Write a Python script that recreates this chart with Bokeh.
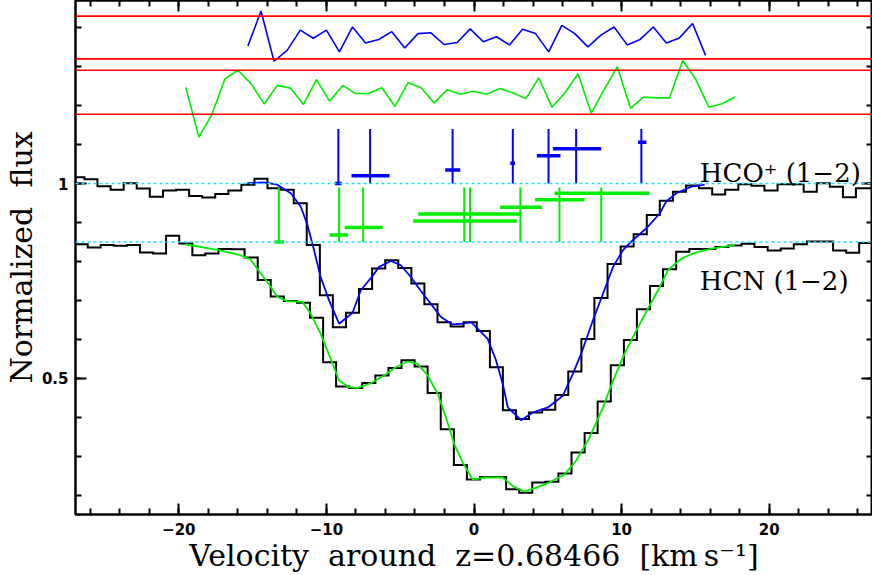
from bokeh.plotting import figure
from bokeh.models import Range1d, LinearAxis, SingleIntervalTicker, Span, Label
from bokeh.embed import file_html
from bokeh.resources import INLINE

# ---------------- data ----------------
BIN_W = 0.886  # km/s channel width

hco_v = [-26.84, -25.95, -25.07, -24.18, -23.29, -22.41, -21.52, -20.63, -19.75, -18.86,
         -17.98, -17.09, -16.20, -15.32, -14.43, -13.55, -12.66, -11.77, -10.89, -10.00,
         -9.12, -8.23, -7.35, -6.46, -5.57, -4.69, -3.80, -2.92, -2.03, -1.14,
         -0.26, 0.63, 1.52, 2.40, 3.29, 4.17, 5.06, 5.95, 6.83, 7.72,
         8.60, 9.49, 10.38, 11.26, 12.15, 13.03, 13.92, 14.81, 15.69, 16.58,
         17.46, 18.35, 19.24, 20.12, 21.01, 21.89, 22.78, 23.67, 24.55, 25.44,
         26.32, 27.21]
hco_f = [1.016, 1.011, 0.993, 0.984, 1.001, 0.987, 0.966, 0.982, 0.984, 0.968,
         0.964, 0.973, 0.982, 0.997, 1.012, 0.988, 0.984, 0.949, 0.842, 0.713,
         0.631, 0.668, 0.729, 0.782, 0.803, 0.783, 0.743, 0.690, 0.644, 0.633,
         0.644, 0.621, 0.528, 0.418, 0.395, 0.412, 0.419, 0.457, 0.517, 0.601,
         0.706, 0.793, 0.838, 0.870, 0.919, 0.956, 0.979, 0.995, 0.988, 0.972,
         0.984, 0.998, 0.994, 0.982, 0.998, 0.998, 0.979, 1.001, 0.992, 0.965,
         0.988, 0.988]

hcn_v = [-26.62, -25.73, -24.85, -23.96, -23.07, -22.19, -21.30, -20.42, -19.53, -18.64,
         -17.76, -16.87, -15.99, -15.10, -14.21, -13.33, -12.44, -11.55, -10.67, -9.78,
         -8.90, -8.01, -7.13, -6.24, -5.35, -4.47, -3.58, -2.70, -1.81, -0.92,
         -0.04, 0.85, 1.74, 2.62, 3.51, 4.39, 5.28, 6.16, 7.05, 7.94,
         8.82, 9.71, 10.60, 11.48, 12.37, 13.25, 14.14, 15.03, 15.91, 16.80,
         17.68, 18.57, 19.45, 20.34, 21.23, 22.11, 23.00, 23.88, 24.77, 25.66,
         26.54, 27.43]
hcn_f = [0.844, 0.836, 0.842, 0.840, 0.842, 0.823, 0.820, 0.866, 0.846, 0.816,
         0.820, 0.832, 0.831, 0.810, 0.752, 0.710, 0.698, 0.694, 0.655, 0.541,
         0.479, 0.475, 0.488, 0.507, 0.526, 0.546, 0.530, 0.462, 0.369, 0.277,
         0.240, 0.246, 0.246, 0.215, 0.206, 0.232, 0.234, 0.255, 0.309, 0.359,
         0.440, 0.533, 0.598, 0.677, 0.737, 0.780, 0.825, 0.832, 0.832, 0.837,
         0.841, 0.845, 0.837, 0.828, 0.833, 0.844, 0.851, 0.851, 0.828, 0.822,
         0.847, 0.847]

hco_fit_v = [-15.36, -14.24, -13.33, -12.42, -11.74, -11.29, -10.84, -10.39, -9.82, -9.14,
             -8.23, -7.67, -6.99, -6.43, -5.63, -4.96, -4.28, -3.60, -2.92, -2.24,
             -1.45, -0.77, -0.20, 0.14, 0.93, 1.49, 1.95, 2.29, 3.19, 3.98,
             5.00, 6.02, 6.70, 7.26, 8.06, 8.74, 9.42, 10.10, 10.77, 11.68,
             12.58, 13.03, 13.71, 14.73, 15.63]
hco_fit_f = [1.001, 1.003, 0.997, 0.975, 0.941, 0.894, 0.829, 0.760, 0.700, 0.640,
             0.668, 0.726, 0.757, 0.786, 0.801, 0.790, 0.760, 0.724, 0.691, 0.657,
             0.638, 0.640, 0.644, 0.631, 0.601, 0.546, 0.485, 0.425, 0.392, 0.412,
             0.425, 0.455, 0.511, 0.563, 0.649, 0.717, 0.786, 0.829, 0.855, 0.885,
             0.923, 0.954, 0.975, 0.992, 0.997]

hcn_fit_v = [-19.55, -17.29, -15.93, -15.14, -14.58, -14.01, -13.33, -12.65, -11.63, -11.07,
             -10.39, -9.71, -9.14, -8.47, -7.90, -6.99, -6.09, -5.30, -4.50, -3.82,
             -3.14, -2.46, -1.90, -1.34, -0.77, -0.09, 0.81, 1.95, 2.63, 3.41,
             4.21, 5.11, 6.13, 6.92, 7.83, 8.74, 9.42, 10.20, 11.00, 11.79,
             12.47, 13.15, 14.05, 14.96, 16.09, 17.67]
hcn_fit_f = [0.844, 0.829, 0.817, 0.805, 0.776, 0.747, 0.709, 0.698, 0.696, 0.666,
             0.614, 0.550, 0.494, 0.477, 0.475, 0.487, 0.507, 0.528, 0.543, 0.537,
             0.507, 0.460, 0.399, 0.331, 0.284, 0.240, 0.245, 0.245, 0.223, 0.209,
             0.219, 0.232, 0.253, 0.288, 0.348, 0.425, 0.494, 0.563, 0.623, 0.679,
             0.726, 0.778, 0.807, 0.822, 0.833, 0.842]

# residual panels (plotted level)
hco_res_v = [-15.32, -14.43, -13.55, -12.66, -11.77, -10.89, -10.00, -9.12, -8.23, -7.35,
             -6.46, -5.57, -4.69, -3.80, -2.92, -2.03, -1.14, -0.26, 0.63, 1.52,
             2.40, 3.29, 4.17, 5.06, 5.95, 6.83, 7.72, 8.60, 9.49, 10.38,
             11.26, 12.15, 13.03, 13.92, 14.81, 15.69]
hco_res_y = [1.353, 1.443, 1.314, 1.342, 1.394, 1.373, 1.394, 1.338, 1.402, 1.361,
             1.370, 1.390, 1.348, 1.385, 1.387, 1.357, 1.362, 1.397, 1.364, 1.377,
             1.356, 1.396, 1.385, 1.338, 1.406, 1.385, 1.351, 1.381, 1.402, 1.356,
             1.370, 1.402, 1.361, 1.374, 1.411, 1.329]

hcn_res_v = [-19.53, -18.64, -17.76, -16.87, -15.99, -15.10, -14.21, -13.33, -12.44, -11.55,
             -10.67, -9.78, -8.90, -8.01, -7.13, -6.24, -5.35, -4.47, -3.58, -2.70,
             -1.81, -0.92, -0.04, 0.85, 1.74, 2.62, 3.51, 4.39, 5.28, 6.16,
             7.05, 7.94, 8.82, 9.71, 10.60, 11.48, 12.37, 13.25, 14.14, 15.03,
             15.91, 16.80, 17.68]
hcn_res_y = [1.247, 1.119, 1.177, 1.269, 1.291, 1.256, 1.204, 1.252, 1.245, 1.203,
             1.267, 1.211, 1.252, 1.231, 1.231, 1.246, 1.198, 1.259, 1.246, 1.207,
             1.241, 1.229, 1.237, 1.229, 1.244, 1.233, 1.218, 1.271, 1.196, 1.233,
             1.282, 1.181, 1.241, 1.300, 1.193, 1.222, 1.220, 1.220, 1.316, 1.267,
             1.196, 1.205, 1.222]

red_levels = [1.430, 1.320, 1.291, 1.178]
continuum_levels = [1.0, 0.85]

# velocity components
hco_comp_v = [-9.19, -7.04, -1.45, 2.63, 5.05, 6.92, 11.34]
hco_comp_lo = [-9.42, -8.30, -1.95, 2.46, 4.26, 5.34, 11.11]
hco_comp_hi = [-8.96, -5.72, -0.93, 2.78, 5.86, 8.62, 11.68]
hco_comp_bar = [1.000, 1.020, 1.035, 1.052, 1.071, 1.089, 1.106]
hco_comp_base, hco_comp_top = 1.0, 1.14

hcn_comp_v = [-13.22, -9.14, -7.51, -0.66, -0.27, 3.14, 5.79, 8.62]
hcn_comp_lo = [-13.51, -9.78, -8.76, -4.12, -3.78, 1.77, 4.14, 5.45]
hcn_comp_hi = [-12.88, -8.53, -6.20, 2.90, 3.24, 4.60, 7.49, 11.90]
hcn_comp_bar = [0.850, 0.868, 0.887, 0.904, 0.922, 0.939, 0.958, 0.975]
hcn_comp_base, hcn_comp_top = 0.85, 0.99

x_ticks_labels = {-20: "\u221220", -10: "\u221210", 0: "0", 10: "10", 20: "20"}
y_ticks_labels = {0.5: "0.5", 1: "1"}

# ---------------- plot ----------------
BLUE = "#0000ff"
GREEN = "#00ee00"
RED = "#ff0000"
CYAN = "#22ddff"
SP = "\u00a0 "
SERIF = "'DejaVu Serif', 'DejaVu Sans', serif"

p = figure(width=872, height=575, x_range=Range1d(-27, 27), y_range=Range1d(0.15, 1.47),
           output_backend="svg", toolbar_location=None,
           min_border_left=75, min_border_right=0, min_border_top=0, min_border_bottom=0)
p.grid.visible = False
p.outline_line_color = "black"
p.outline_line_width = 2
p.background_fill_color = "white"
p.border_fill_color = "white"


def style_axis(ax, labels=True):
    ax.major_tick_in = 11
    ax.major_tick_out = 0
    ax.minor_tick_in = 6
    ax.minor_tick_out = 0
    ax.major_tick_line_width = 2
    ax.minor_tick_line_width = 2
    ax.axis_line_width = 2
    ax.major_tick_line_color = "black"
    ax.minor_tick_line_color = "black"
    ax.axis_line_color = "black"
    if labels:
        ax.major_label_text_font = "DejaVu Sans"
        ax.major_label_text_font_style = "bold"
        ax.major_label_text_font_size = "15px"
        ax.major_label_text_color = "black"
        ax.major_label_standoff = 8
        ax.axis_label_text_font = SERIF
        ax.axis_label_text_font_style = "normal"
        ax.axis_label_text_font_size = "30px"
        ax.axis_label_text_color = "black"
        ax.axis_label_standoff = 0
    else:
        ax.major_label_text_color = None
        ax.major_label_standoff = 0


p.xaxis.ticker = SingleIntervalTicker(interval=10, num_minor_ticks=5)
p.yaxis.ticker = SingleIntervalTicker(interval=0.5, num_minor_ticks=5)
p.xaxis.axis_label = "Velocity" + SP + "around" + SP + "z=0.68466" + SP + "[km\u2009s\u207b\u00b9]"
p.yaxis.axis_label = "Normalized" + SP + "flux"
p.xaxis.major_label_overrides = x_ticks_labels
p.yaxis.major_label_overrides = y_ticks_labels
for ax in p.xaxis + p.yaxis:
    style_axis(ax)
p.yaxis.major_label_standoff = 7

top_axis = LinearAxis(ticker=SingleIntervalTicker(interval=10, num_minor_ticks=5))
right_axis = LinearAxis(ticker=SingleIntervalTicker(interval=0.5, num_minor_ticks=5))
style_axis(top_axis, labels=False)
style_axis(right_axis, labels=False)
p.add_layout(top_axis, "above")
p.add_layout(right_axis, "right")

# residual bands
for lvl in red_levels:
    p.add_layout(Span(location=lvl, dimension="width", line_color=RED, line_width=1.6))
p.line(hco_res_v, hco_res_y, line_color=BLUE, line_width=1.6)
p.line(hcn_res_v, hcn_res_y, line_color=GREEN, line_width=1.6)

# continuum levels
for lvl in continuum_levels:
    p.add_layout(Span(location=lvl, dimension="width", line_color=CYAN,
                      line_width=1.5, line_dash="3 3"))


def edges(centres):
    return [c - BIN_W / 2 for c in centres] + [centres[-1] + BIN_W / 2]


p.step(edges(hco_v), hco_f + [hco_f[-1]], mode="after", line_color="black",
       line_width=2, line_join="miter")
p.step(edges(hcn_v), hcn_f + [hcn_f[-1]], mode="after", line_color="black",
       line_width=2, line_join="miter")

p.line(hco_fit_v, hco_fit_f, line_color=BLUE, line_width=1.8)
p.line(hcn_fit_v, hcn_fit_f, line_color=GREEN, line_width=1.8)

# component markers
p.segment(x0=hco_comp_v, y0=[hco_comp_base] * len(hco_comp_v), x1=hco_comp_v,
          y1=[hco_comp_top] * len(hco_comp_v), line_color=BLUE, line_width=2)
p.segment(x0=hco_comp_lo, y0=hco_comp_bar, x1=hco_comp_hi, y1=hco_comp_bar,
          line_color=BLUE, line_width=3.5)
p.segment(x0=hcn_comp_v, y0=[hcn_comp_base] * len(hcn_comp_v), x1=hcn_comp_v,
          y1=[hcn_comp_top] * len(hcn_comp_v), line_color=GREEN, line_width=2)
p.segment(x0=hcn_comp_lo, y0=hcn_comp_bar, x1=hcn_comp_hi, y1=hcn_comp_bar,
          line_color=GREEN, line_width=3.5)

p.add_layout(Label(x=15.3, y=1.028, text="HCO\u207a (1\u22122)", text_font=SERIF,
                   text_font_size="26px", text_color="black", text_baseline="alphabetic"))
p.add_layout(Label(x=15.3, y=0.75, text="HCN (1\u22122)", text_font=SERIF,
                   text_font_size="26px", text_color="black", text_baseline="alphabetic"))

open("out.html", "w").write(file_html(p, INLINE))
